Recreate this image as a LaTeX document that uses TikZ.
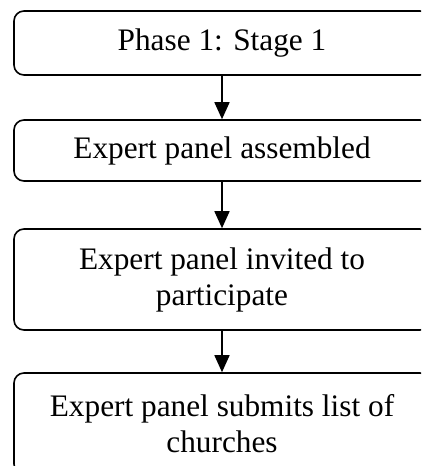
\documentclass[tikz,border=0pt]{standalone}
\usepackage{fontspec}
\setmainfont{Liberation Serif}
\usetikzlibrary{arrows.meta}
\begin{document}
\begin{tikzpicture}[x=1pt,y=1pt,
  stepbox/.style={draw, line width=1.6pt, rounded corners=10pt, minimum width=416pt,
    align=center, font=\fontsize{31.3}{36}\selectfont, inner sep=0pt},
  flow/.style={line width=1.6pt, -{Triangle[width=15pt,length=17pt]}}]
\useasboundingbox (0,0) rectangle (421,-466);
\clip (0,0) rectangle (421,-466);
\node[stepbox, minimum height=64pt] (a) at (222,-43) {Phase 1: Stage 1};
\node[stepbox, minimum height=61pt] (b) at (222,-150.5) {Expert panel assembled};
\node[stepbox, minimum height=101pt] (c) at (222,-279.5) {Expert panel invited to\\participate};
\node[stepbox, minimum height=101pt] (d) at (222,-423.5) {Expert panel submits list of\\churches};
\draw[flow] (a) -- (b);
\draw[flow] (b) -- (c);
\draw[flow] (c) -- (d);
\end{tikzpicture}
\end{document}
